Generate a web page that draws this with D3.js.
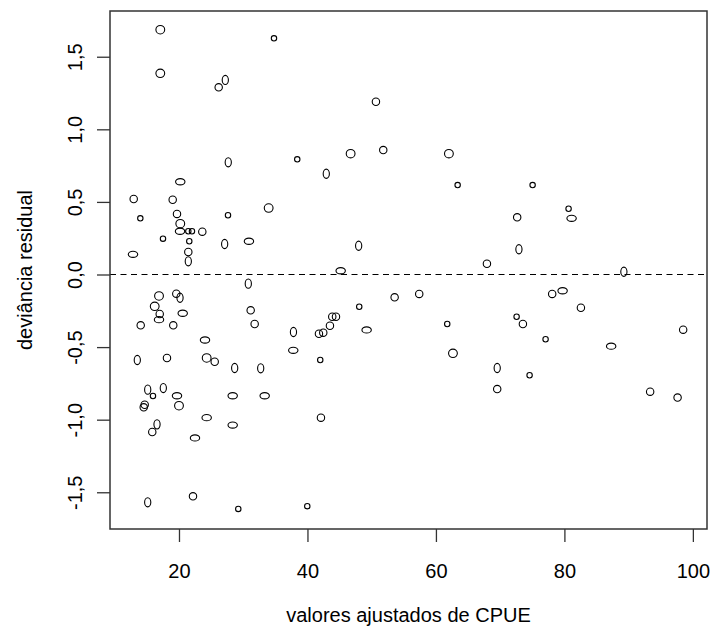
<!DOCTYPE html>
<html>
<head>
<meta charset="utf-8">
<script src="https://cdn.jsdelivr.net/npm/d3@7"></script>
<style>
  body { margin: 0; background: #fff; }
  svg text { font-family: Arial, "Liberation Sans", sans-serif; fill: #000; }
</style>
</head>
<body>
<svg id="chart" width="716" height="638"></svg>
<script>
// valores ajustados (CPUE) e deviancia residual
var fitted = [17.09, 34.79, 17.09, 27.21, 26.18, 27.67, 38.41, 20.20, 12.95, 19.02,
  33.96, 13.98, 19.69, 27.63, 20.20, 20.16, 21.45, 22.02, 23.63, 17.51,
  21.60, 27.11, 30.89, 12.84, 21.45, 21.45, 30.79, 16.89, 19.58, 20.16,
  16.22, 17.00, 20.58, 31.16, 16.89, 14.04, 19.11, 31.78, 24.05, 37.82,
  37.79, 13.51, 18.13, 24.31, 25.56, 28.67, 32.72, 15.13, 17.56, 15.95,
  19.69, 14.66, 14.51, 20.00, 28.36, 33.34, 24.31, 16.58, 15.84, 28.36,
  22.49, 22.18, 15.13, 29.23, 39.97, 50.66, 46.72, 51.80, 62.02, 42.93,
  63.38, 47.97, 45.17, 67.94, 53.57, 57.40, 48.06, 44.44, 43.86, 43.50,
  41.79, 42.46, 49.21, 41.99, 61.76, 62.65, 69.54, 69.54, 42.10, 75.05,
  72.65, 80.65, 81.12, 72.92, 89.26, 78.10, 79.72, 82.57, 72.56, 73.54,
  77.07, 87.28, 98.49, 74.58, 93.35, 97.62];

var resid = [1.686, 1.627, 1.386, 1.340, 1.289, 0.773, 0.793, 0.639, 0.520, 0.515,
  0.458, 0.387, 0.417, 0.408, 0.350, 0.298, 0.298, 0.298, 0.295, 0.247,
  0.229, 0.210, 0.229, 0.139, 0.155, 0.091, -0.063, -0.148, -0.132, -0.160,
  -0.219, -0.272, -0.267, -0.247, -0.311, -0.350, -0.350, -0.341, -0.451, -0.396,
  -0.522, -0.589, -0.575, -0.575, -0.601, -0.644, -0.646, -0.793, -0.782, -0.837,
  -0.835, -0.897, -0.915, -0.904, -0.835, -0.835, -0.986, -1.032, -1.085, -1.037,
  -1.126, -1.528, -1.569, -1.615, -1.596, 1.190, 0.832, 0.857, 0.832, 0.694,
  0.616, 0.198, 0.026, 0.074, -0.157, -0.134, -0.222, -0.291, -0.291, -0.353,
  -0.408, -0.401, -0.382, -0.589, -0.341, -0.543, -0.644, -0.789, -0.986, 0.616,
  0.394, 0.453, 0.387, 0.174, 0.019, -0.134, -0.112, -0.229, -0.291, -0.341,
  -0.446, -0.494, -0.380, -0.694, -0.807, -0.848];

// forma do simbolo de cada ponto: s pequeno, c circulo, C grande, t alto, w largo
var glyph = ["C","s","C","t","c","t","s","w","c","c",
  "C","s","c","s","C","w","s","s","c","s",
  "s","t","w","w","c","t","t","C","c","t",
  "C","c","w","c","w","c","c","c","w","t",
  "w","t","c","C","c","t","t","t","t","s",
  "w","c","c","C","w","w","w","t","c","w",
  "w","c","t","s","s","c","C","c","C","t",
  "s","t","w","c","c","c","s","c","c","c",
  "c","c","w","s","s","C","t","c","c","s",
  "c","s","w","t","t","c","w","c","s","c",
  "s","w","c","s","c","c"];

var xTicks = [20, 40, 60, 80, 100];
var yTicks = [-1.5, -1.0, -0.5, 0.0, 0.5, 1.0, 1.5];

var svg = d3.select("#chart");
var pLeft = 110, pRight = 707, pTop = 11, pBottom = 529;

var x = d3.scaleLinear().domain([9.26, 102.2]).range([pLeft, pRight]);
var y = d3.scaleLinear().domain([-1.753, 1.815]).range([pBottom, pTop]);

var fmt = function(v){ return d3.format(".1f")(v).replace(".", ",").replace("−", "-"); };

var radii = {
  s: [2.7, 2.7],
  c: [3.7, 3.7],
  C: [4.4, 4.2],
  t: [3.1, 4.6],
  w: [4.7, 3.1]
};

// linha zero tracejada
svg.append("line")
  .attr("x1", pLeft).attr("x2", pRight)
  .attr("y1", y(0)).attr("y2", y(0))
  .attr("stroke", "#000").attr("stroke-width", 1)
  .attr("stroke-dasharray", "6,4.5");

// pontos
svg.append("g").selectAll("ellipse")
  .data(fitted)
  .join("ellipse")
  .attr("cx", function(d){ return x(d); })
  .attr("cy", function(d, i){ return y(resid[i]); })
  .attr("rx", function(d, i){ return radii[glyph[i]][0]; })
  .attr("ry", function(d, i){ return radii[glyph[i]][1]; })
  .attr("fill", "none")
  .attr("stroke", "#000")
  .attr("stroke-width", 1.1);

// eixo x
var xAxis = svg.append("g")
  .attr("transform", "translate(0," + pBottom + ")")
  .call(d3.axisBottom(x).tickValues(xTicks).tickSize(13).tickSizeOuter(0).tickPadding(22)
    .tickFormat(d3.format("d")));
xAxis.select(".domain").remove();
xAxis.selectAll("line").attr("stroke", "#333").attr("stroke-width", 1.3);
xAxis.selectAll("text").attr("font-size", 20).attr("dy", "0.71em");

// eixo y
var yAxis = svg.append("g")
  .attr("transform", "translate(" + pLeft + ",0)")
  .call(d3.axisLeft(y).tickValues(yTicks).tickSize(13).tickSizeOuter(0).tickFormat(fmt));
yAxis.select(".domain").remove();
yAxis.selectAll("line").attr("stroke", "#333").attr("stroke-width", 1.3);
yAxis.selectAll("text")
  .attr("font-size", 20)
  .attr("x", null).attr("dy", null)
  .attr("text-anchor", "middle")
  .attr("dominant-baseline", "central")
  .attr("transform", "translate(-35,0) rotate(-90)");

// caixa
svg.append("rect")
  .attr("x", pLeft).attr("y", pTop)
  .attr("width", pRight - pLeft).attr("height", pBottom - pTop)
  .attr("fill", "none").attr("stroke", "#333").attr("stroke-width", 1.5);

// titulos
svg.append("text")
  .attr("x", (pLeft + pRight) / 2).attr("y", 622)
  .attr("text-anchor", "middle").attr("font-size", 20)
  .text("valores ajustados de CPUE");

svg.append("text")
  .attr("transform", "translate(32," + ((pTop + pBottom) / 2) + ") rotate(-90)")
  .attr("text-anchor", "middle").attr("font-size", 20)
  .text("deviância residual");
</script>
</body>
</html>
